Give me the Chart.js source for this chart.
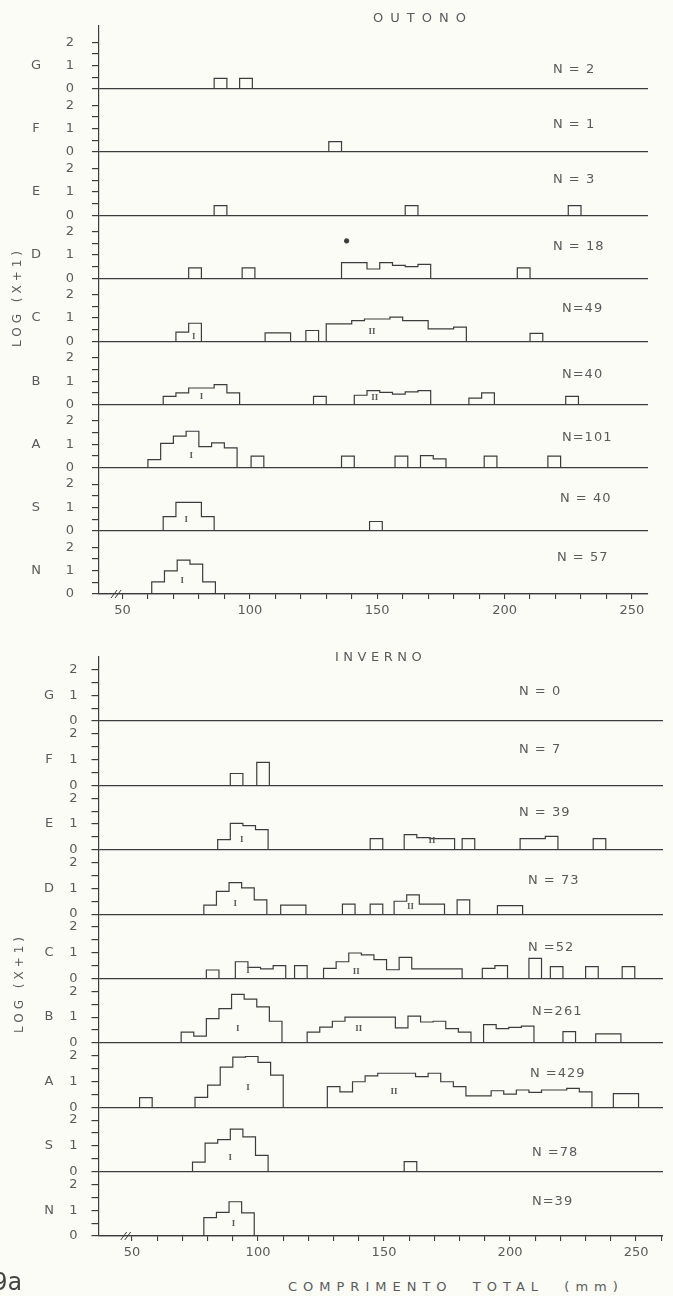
<!DOCTYPE html>
<html>
<head>
<meta charset="utf-8">
<script src="https://cdn.jsdelivr.net/npm/chart.js@4/dist/chart.umd.min.js"></script>
<style>
  html, body { margin: 0; padding: 0; }
  body {
    width: 673px; height: 1296px; position: relative; overflow: hidden;
    background: #fcfcf7; font-family: "DejaVu Sans", sans-serif; color: #5a5a5a;
  }
  canvas { position: absolute; left: 0; }
  .lbl { position: absolute; white-space: pre; font-size: 13px; line-height: 16px; }
  .vt { position: absolute; width: 160px; height: 16px; text-align: center;
        transform: rotate(-90deg); font-size: 12px; line-height: 16px; letter-spacing: 4px; }
</style>
</head>
<body>
<canvas id="outono" width="673" height="625" style="top:0px"></canvas>
<canvas id="inverno" width="673" height="637" style="top:630px"></canvas>

<div class="lbl" style="left:373px; top:10px; letter-spacing:7px;">OUTONO</div>
<div class="lbl" style="left:335px; top:649px; letter-spacing:4.5px;">INVERNO</div>
<div class="vt" style="left:-63px; top:289px;">LOG (X+1)</div>
<div class="vt" style="left:-61px; top:975px;">LOG (X+1)</div>
<div class="lbl" style="left:288px; top:1279px; letter-spacing:6px;">COMPRIMENTO  TOTAL  (mm)</div>
<div class="lbl" style="left:-7px; top:1268px; font-size:24px; line-height:28px; font-family:'DejaVu Sans Mono', monospace; color:#444;">9a</div>

<script>
// Length-frequency histograms, log(x+1) of catch per 5 mm class, by station.
const LINE = '#3c3c3c';
const TEXT = '#5a5a5a';
const FONT = '"DejaVu Sans", sans-serif';
const BIN_MM = 5;
const PANELS = ['G', 'F', 'E', 'D', 'C', 'B', 'A', 'S', 'N'];
const Y_TICKS = [0, 0.5, 1, 1.5, 2];

// Each run: [start of first class (mm), log(x+1) of each consecutive class ...]
// OUTONO
const outonoG = [[86, 0.45], [96, 0.45]];
const outonoF = [[131, 0.45]];
const outonoE = [[86, 0.41], [161, 0.41], [225, 0.41]];
const outonoD = [[76, 0.45], [97, 0.45], [136, 0.67, 0.67, 0.40, 0.67, 0.55, 0.50, 0.60], [205, 0.45]];
const outonoC = [[71, 0.40, 0.78], [106, 0.37, 0.37], [122, 0.47],
                 [130, 0.75, 0.75, 0.89, 0.96, 0.96, 1.04, 0.89, 0.89, 0.54, 0.54, 0.61], [210, 0.35]];
const outonoB = [[66, 0.35, 0.50, 0.71, 0.71, 0.85, 0.50], [125, 0.35],
                 [141, 0.40, 0.60, 0.52, 0.45, 0.54, 0.60], [186, 0.28, 0.50], [224, 0.35]];
const outonoA = [[60, 0.35, 1.04, 1.35, 1.56, 0.90, 1.06, 0.85], [100.5, 0.50], [136, 0.50],
                 [157, 0.50], [167, 0.52, 0.38], [192, 0.50], [217, 0.50]];
const outonoS = [[66, 0.61, 1.22, 1.22, 0.61], [147, 0.40]];
const outonoN = [[61.5, 0.52, 0.99, 1.45, 1.28, 0.52]];
const outonoSampleSizes = ['N = 2', 'N = 1', 'N = 3', 'N = 18', 'N=49', 'N=40', 'N=101', 'N = 40', 'N = 57'];
const outonoCohorts = {
  C: [['I', 78, 0.22], ['II', 148, 0.4]],
  B: [['I', 81, 0.35], ['II', 149, 0.3]],
  A: [['I', 77, 0.5]],
  S: [['I', 75, 0.47]],
  N: [['I', 73.5, 0.55]]
};
const outonoDPoint = [{ x: 138, y: 1.6 }];

// INVERNO
const invernoG = [];
const invernoF = [[89, 0.46], [99.5, 0.89]];
const invernoE = [[84, 0.39, 1.02, 0.94, 0.78], [144.5, 0.43], [158, 0.59, 0.47, 0.43, 0.43],
                  [181, 0.43], [204, 0.43, 0.43, 0.52], [233, 0.43]];
const invernoD = [[78.5, 0.35, 0.88, 1.22, 1.02, 0.55], [109, 0.35, 0.35], [133.5, 0.39], [144.5, 0.39],
                  [154, 0.50, 0.75, 0.39, 0.39], [179, 0.55], [195, 0.33, 0.33]];
const invernoC = [[79.5, 0.33], [91, 0.65, 0.43, 0.37, 0.50], [114.5, 0.50],
                  [126, 0.39, 0.65, 0.99, 0.92, 0.73, 0.34, 0.82, 0.37, 0.37, 0.37, 0.37],
                  [189, 0.39, 0.50], [207.5, 0.78], [216, 0.46], [230, 0.46], [244.5, 0.46]];
const invernoB = [[69.5, 0.42, 0.26, 0.94, 1.33, 1.88, 1.70, 1.40, 0.84],
                  [119.5, 0.42, 0.61, 0.84, 1.0, 1.0, 1.0, 1.0, 0.58, 1.04, 0.81, 0.84, 0.55, 0.42],
                  [189.5, 0.71, 0.55, 0.60, 0.65], [221, 0.44], [234, 0.35, 0.35]];
const invernoA = [[53, 0.37], [75, 0.38, 0.86, 1.56, 1.95, 1.97, 1.74, 1.25],
                  [127.5, 0.80, 0.60, 0.99, 1.22, 1.32, 1.32, 1.32, 1.19, 1.32, 0.99, 0.80,
                   0.44, 0.44, 0.64, 0.51, 0.67, 0.58, 0.67, 0.67, 0.73, 0.60],
                  [241, 0.53, 0.53]];
const invernoS = [[74, 0.37, 1.11, 1.24, 1.65, 1.35, 0.63], [158, 0.39]];
const invernoN = [[78.5, 0.71, 0.92, 1.33, 0.90]];
const invernoSampleSizes = ['N = 0', 'N = 7', 'N = 39', 'N = 73', 'N =52', 'N=261', 'N =429', 'N =78', 'N=39'];
const invernoCohorts = {
  E: [['I', 93.5, 0.39], ['II', 169, 0.35]],
  D: [['I', 91, 0.4], ['II', 160.5, 0.3]],
  C: [['I', 96, 0.3], ['II', 139, 0.25]],
  B: [['I', 92, 0.55], ['II', 140, 0.55]],
  A: [['I', 96, 0.75], ['II', 154, 0.6]],
  S: [['I', 89, 0.56]],
  N: [['I', 90.3, 0.48]]
};

// Turns runs of classes into a stepped outline; null breaks the line between runs.
function outline(runs) {
  const pts = [];
  runs.forEach(([start, ...heights]) => {
    let x = start;
    pts.push({ x, y: 0 });
    heights.forEach(h => {
      pts.push({ x, y: h });
      x += BIN_MM;
      pts.push({ x, y: h });
    });
    pts.push({ x, y: 0 });
    pts.push({ x, y: null });
  });
  return pts;
}

function annotations(cfg) {
  return {
    id: 'annotations',
    afterDraw(chart) {
      const { ctx } = chart;
      const xs = chart.scales.x;
      ctx.save();
      ctx.fillStyle = TEXT;
      PANELS.forEach((p, i) => {
        const ys = chart.scales[cfg.prefix + p];
        const base = ys.getPixelForValue(0);
        ctx.font = `13px ${FONT}`;
        ctx.textAlign = 'center';
        ctx.textBaseline = 'middle';
        ctx.fillText(p, cfg.letterX, ys.getPixelForValue(1));
        ctx.textAlign = 'left';
        if ('letterSpacing' in ctx) ctx.letterSpacing = '1px';
        ctx.fillText(cfg.sizes[i], cfg.sizeX[i], base - cfg.sizeLift[i]);
        if ('letterSpacing' in ctx) ctx.letterSpacing = '0px';
        ctx.font = 'bold 9px "Liberation Serif", serif';
        ctx.textAlign = 'center';
        (cfg.cohorts[p] || []).forEach(([t, mm, v]) => {
          ctx.fillText(t, xs.getPixelForValue(mm), ys.getPixelForValue(v));
        });
      });
      // break mark on the length axis
      const bx = xs.getPixelForValue(47.5);
      const by = chart.chartArea.bottom;
      ctx.strokeStyle = LINE;
      ctx.lineWidth = 1;
      [-2, 2].forEach(d => {
        ctx.beginPath();
        ctx.moveTo(bx + d - 3, by + 4);
        ctx.lineTo(bx + d + 3, by - 4);
        ctx.stroke();
      });
      ctx.restore();
    }
  };
}

function buildChart(canvasId, cfg) {
  const scales = {
    x: {
      type: 'linear', min: cfg.xMin, max: cfg.xMax,
      afterBuildTicks: s => { s.ticks = s.ticks.filter(t => t.value >= 50); },
      afterFit: s => { s.height = 31; },
      ticks: {
        stepSize: 10, includeBounds: false, autoSkip: false, maxRotation: 0, padding: 4,
        color: TEXT, font: { family: FONT, size: 13 },
        callback: v => (v % 50 === 0 ? String(v) : '')
      },
      grid: { drawOnChartArea: false, color: LINE, tickColor: LINE, tickLength: 5, lineWidth: 1.1 },
      border: { display: true, color: LINE, width: 1.2 }
    }
  };
  // stacked axes are laid out in reverse order of definition, so define N first and G last
  [...PANELS].reverse().forEach(p => {
    scales[cfg.prefix + p] = {
      type: 'linear', position: 'left', stack: cfg.prefix, stackWeight: 1, offset: false,
      min: 0, max: cfg.yMax,
      afterBuildTicks: s => { s.ticks = Y_TICKS.map(v => ({ value: v })); },
      afterFit: s => { s.width = cfg.axisWidth; },
      ticks: {
        autoSkip: false, padding: cfg.tickPad, color: TEXT, font: { family: FONT, size: 13 },
        callback: v => (Number.isInteger(v) ? String(v) : '')
      },
      grid: {
        drawOnChartArea: true, tickLength: 7, lineWidth: 1.2, tickColor: LINE,
        color: c => (c.tick && c.tick.value === 0 ? LINE : 'rgba(0,0,0,0)')
      },
      border: { display: true, color: LINE, width: 1.2 }
    };
  });

  const datasets = PANELS.map(p => ({
    data: outline(cfg.runs[p]),
    yAxisID: cfg.prefix + p,
    borderColor: LINE, borderWidth: 1.2, pointRadius: 0, fill: false, tension: 0, spanGaps: false
  }));
  (cfg.points || []).forEach(pt => datasets.push({
    data: pt.data, yAxisID: cfg.prefix + pt.panel, showLine: false,
    pointRadius: 2.2, pointBackgroundColor: LINE, pointBorderColor: LINE
  }));

  return new Chart(document.getElementById(canvasId), {
    type: 'line',
    data: { datasets },
    options: {
      responsive: false, animation: false, events: [],
      layout: { padding: cfg.padding },
      plugins: { legend: { display: false }, tooltip: { enabled: false } },
      scales
    },
    plugins: [annotations(cfg)]
  });
}

buildChart('outono', {
  prefix: 'o', xMin: 40.8, xMax: 256.3, yMax: 2.7, axisWidth: 99, tickPad: 18, letterX: 36,
  padding: { top: 17, right: 25, bottom: 0, left: 0 },
  runs: { G: outonoG, F: outonoF, E: outonoE, D: outonoD, C: outonoC, B: outonoB, A: outonoA, S: outonoS, N: outonoN },
  sizes: outonoSampleSizes,
  sizeX: [553, 553, 553, 553, 562, 562, 562, 560, 557],
  sizeLift: [19, 27, 36, 32, 33, 30, 30, 32, 36],
  cohorts: outonoCohorts,
  points: [{ panel: 'D', data: outonoDPoint }]
});

buildChart('inverno', {
  prefix: 'i', xMin: 36.7, xMax: 260.7, yMax: 2.5, axisWidth: 98.5, tickPad: 14, letterX: 49,
  padding: { top: 26.6, right: 10, bottom: 0, left: 0 },
  runs: { G: invernoG, F: invernoF, E: invernoE, D: invernoD, C: invernoC, B: invernoB, A: invernoA, S: invernoS, N: invernoN },
  sizes: invernoSampleSizes,
  sizeX: [519, 519, 519, 528, 528, 532, 530, 532, 532],
  sizeLift: [29, 36, 37, 33, 31, 31, 34, 19, 34],
  cohorts: invernoCohorts
});
</script>
</body>
</html>
